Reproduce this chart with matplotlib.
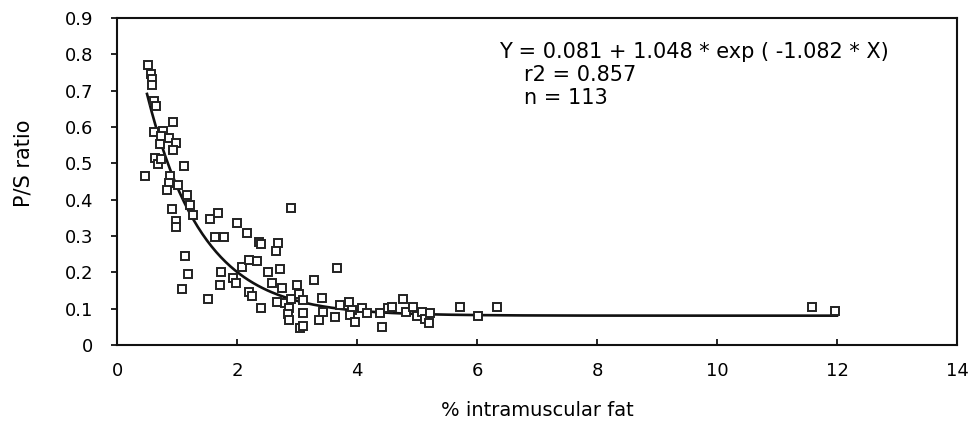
import numpy as np
import matplotlib
matplotlib.use("Agg")
import matplotlib.pyplot as plt

plt.rcParams['font.family'] = ['DejaVu Sans']

# % intramuscular fat vs P/S ratio
fat = [0.52, 0.57, 0.58, 0.59, 0.61, 0.65, 0.93,
       0.61, 0.77, 0.73, 0.87, 0.99, 0.72, 0.94,
       0.63, 0.69, 0.73, 1.12, 0.47, 0.88, 1.02,
       0.86, 0.83, 1.17, 1.21, 1.26, 0.91, 0.98, 0.99,
       1.55, 1.69, 1.63, 1.78, 2.00, 2.17, 1.13,
       1.19, 1.08, 1.73, 1.71, 1.93, 1.98, 1.52,
       2.08, 2.20, 2.20,
       2.36, 2.40, 2.69, 2.65, 2.90, 2.33, 2.52,
       2.71, 2.25, 2.40, 2.58, 2.75, 3.00, 2.66,
       2.80, 2.87, 2.85, 2.87, 3.10, 3.04, 2.90,
       3.05, 3.10, 3.10,
       3.67, 3.28, 3.41, 3.43, 3.36, 3.63, 3.72, 3.86, 3.91,
       3.88, 3.97, 4.08, 4.16, 4.38, 4.52, 4.41,
       4.77, 4.82, 4.94, 5.00, 5.08, 5.13, 5.22,
       5.20, 4.58, 5.72, 6.02, 6.33, 11.58, 11.97]
ps_ratio = [0.771, 0.746, 0.732, 0.716, 0.672, 0.657, 0.614,
            0.587, 0.588, 0.574, 0.571, 0.557, 0.552, 0.536,
            0.514, 0.497, 0.512, 0.494, 0.464, 0.464, 0.441,
            0.447, 0.428, 0.413, 0.386, 0.358, 0.374, 0.342, 0.326,
            0.346, 0.364, 0.298, 0.297, 0.337, 0.308, 0.245,
            0.195, 0.153, 0.200, 0.165, 0.186, 0.172, 0.126,
            0.216, 0.234, 0.147,
            0.285, 0.278, 0.280, 0.259, 0.377, 0.232, 0.202,
            0.209, 0.135, 0.103, 0.170, 0.156, 0.165, 0.119,
            0.115, 0.101, 0.085, 0.069, 0.089, 0.140, 0.128,
            0.047, 0.052, 0.124,
            0.213, 0.179, 0.129, 0.092, 0.069, 0.078, 0.110, 0.119, 0.096,
            0.083, 0.064, 0.101, 0.087, 0.089, 0.101, 0.050,
            0.126, 0.090, 0.105, 0.081, 0.090, 0.073, 0.089,
            0.061, 0.104, 0.104, 0.080, 0.104, 0.105, 0.094]

# fitted model printed on the chart: Y = a + b * exp(c * X)
fit_a, fit_b, fit_c = 0.081, 1.048, -1.082
fit_range = (0.5, 12.0)

fig = plt.figure(figsize=(9.76, 4.25), dpi=100)
ax = fig.add_axes([0.1199, 0.188, 0.8606, 0.7696])

xs = np.linspace(fit_range[0], fit_range[1], 300)
ax.plot(xs, fit_a + fit_b * np.exp(fit_c * xs), color='#111111', lw=1.9, zorder=2)
ax.plot(fat, ps_ratio, ls='none', marker='s', ms=5.8, mfc='white',
        mec='#222222', mew=1.4, zorder=3)

ax.set_xlim(0, 14)
ax.set_ylim(0, 0.9)
ax.set_xticks(range(0, 15, 2))
ax.set_yticks(np.arange(0, 0.91, 0.1))
ax.set_yticklabels(['0'] + ['%.1f' % v for v in np.arange(0.1, 0.91, 0.1)])
ax.tick_params(axis='x', direction='in', length=4, width=1.2, labelsize=13, pad=12)
ax.tick_params(axis='y', direction='out', length=4, width=1.2, labelsize=13, pad=13)
for s in ax.spines.values():
    s.set_linewidth(1.5)
    s.set_color('#111111')

ax.set_xlabel('% intramuscular fat', fontsize=14)
ax.xaxis.set_label_coords(0.5, -0.171)
ax.set_ylabel('P/S ratio', fontsize=15)
ax.yaxis.set_label_coords(-0.1, 0.557)

ax.text(0.455, 0.878, 'Y = 0.081 + 1.048 * exp ( -1.082 * X)', transform=ax.transAxes,
        fontsize=15, va='baseline')
ax.text(0.4845, 0.807, 'r2 = 0.857', transform=ax.transAxes, fontsize=15, va='baseline')
ax.text(0.4845, 0.738, 'n = 113', transform=ax.transAxes, fontsize=15, va='baseline')

fig.savefig('out.png', dpi=100)
